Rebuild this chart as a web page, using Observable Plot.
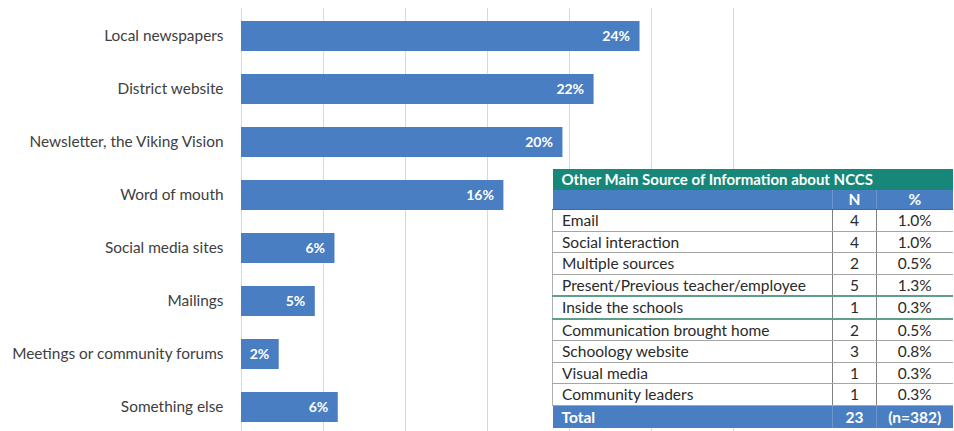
<!DOCTYPE html>
<html>
<head>
<meta charset="utf-8">
<script src="https://cdn.jsdelivr.net/npm/d3@7"></script>
<script src="https://cdn.jsdelivr.net/npm/@observablehq/plot@0.6"></script>
<style>
  html, body { margin: 0; padding: 0; background: #fff; }
  #wrap { position: relative; width: 954px; height: 431px; font-family: Lato, "Open Sans", sans-serif; }
  #tbl { position: absolute; left: 552px; top: 169px; width: 400px; border-collapse: collapse; table-layout: fixed; background: #fff; font-size: 15.5px; color: #2a2a2a; }
  #tbl td { padding: 0 0 0 9px; height: 20.5px; line-height: 20.5px; border-bottom: 1px solid #a6a6a6; white-space: nowrap; overflow: hidden; }
  #tbl td.c { text-align: center; padding: 0; border-left: 1px solid #808080; }
  #tbl tr.title td { background: #17877A; color: #fff; font-weight: bold; height: 21px; line-height: 21px; font-size: 15px; border-bottom: none; }
  #tbl tr.head td { background: #4A7EC2; color: #fff; font-weight: bold; height: 19px; line-height: 19px; border-bottom: 1px solid #3d6aa3; }
  #tbl tr.head td.c { border-left: 1px solid #6f96cc; }
  #tbl tr.total td { background: #4A7EC2; color: #fff; font-weight: bold; border-bottom: none; height: 22px; line-height: 22px; }
  #tbl tr.total td.c { border-left: 1px solid #6f96cc; }
  #tbl tr.teal td { border-bottom: 2px solid #5f9e8a; }
  #tbl tr.body td:first-child { border-left: 1px solid #b0b0b0; }
</style>
</head>
<body>
<div id="wrap"></div>
<script>
// Main chart data
const categories = [
  "Local newspapers",
  "District website",
  "Newsletter, the Viking Vision",
  "Word of mouth",
  "Social media sites",
  "Mailings",
  "Meetings or community forums",
  "Something else"
];
const values = [24.3, 21.5, 19.6, 16.0, 5.7, 4.5, 2.3, 5.9];
const valueLabels = ["24%", "22%", "20%", "16%", "6%", "5%", "2%", "6%"];
const xTicks = [0, 5, 10, 15, 20, 25, 30];

// Inset table data
const tableTitle = "Other Main Source of Information about NCCS";
const tableHeaders = ["", "N", "%"];
const otherSources = [
  "Email",
  "Social interaction",
  "Multiple sources",
  "Present/Previous teacher/employee",
  "Inside the schools",
  "Communication brought home",
  "Schoology website",
  "Visual media",
  "Community leaders"
];
const otherN = [4, 4, 2, 5, 1, 2, 3, 1, 1];
const otherPct = ["1.0%", "1.0%", "0.5%", "1.3%", "0.3%", "0.5%", "0.8%", "0.3%", "0.3%"];
const totalRow = ["Total", "23", "(n=382)"];

const data = categories.map((c, i) => ({category: c, value: values[i], label: valueLabels[i]}));

const chart = Plot.plot({
  width: 954,
  height: 431,
  marginLeft: 241,
  marginRight: 221,
  marginTop: 8,
  marginBottom: 0,
  style: {fontFamily: "Lato, 'Open Sans', sans-serif", color: "#404040", background: "#fff"},
  x: {domain: [0, 30], axis: null},
  y: {domain: categories, paddingInner: 0.434, paddingOuter: 0.2075, align: 0.59, axis: null},
  marks: [
    Plot.ruleX(xTicks, {stroke: "#d9d9d9", strokeWidth: 1}),
    Plot.barX(data, {x: "value", y: "category", fill: "#4A7EC2"}),
    Plot.text(data, {x: "value", y: "category", text: "label", textAnchor: "end", dx: -10, fill: "#ffffff", fontWeight: "bold", fontSize: 14}),
    Plot.axisY({tickSize: 0, tickPadding: 18, fontSize: 15.4, fill: "#404040", label: null})
  ]
});
document.getElementById("wrap").appendChild(chart);

// Build table
const tbl = document.createElement("table");
tbl.id = "tbl";
const cg = document.createElement("colgroup");
[280, 44, 76].forEach(w => { const c = document.createElement("col"); c.style.width = w + "px"; cg.appendChild(c); });
tbl.appendChild(cg);
function addRow(cls, cells, titleSpan) {
  const tr = document.createElement("tr");
  tr.className = cls;
  if (titleSpan) {
    const td = document.createElement("td");
    td.colSpan = 3;
    td.textContent = cells[0];
    tr.appendChild(td);
  } else {
    cells.forEach((t, i) => {
      const td = document.createElement("td");
      td.textContent = t;
      if (i > 0) td.className = "c";
      tr.appendChild(td);
    });
  }
  tbl.appendChild(tr);
}
addRow("title", [tableTitle], true);
addRow("head", tableHeaders);
otherSources.forEach((s, i) => {
  const teal = (i === 3 || i === 4) ? " teal" : "";
  addRow("body" + teal, [s, String(otherN[i]), otherPct[i]]);
});
addRow("total", totalRow);
document.getElementById("wrap").appendChild(tbl);
</script>
</body>
</html>
